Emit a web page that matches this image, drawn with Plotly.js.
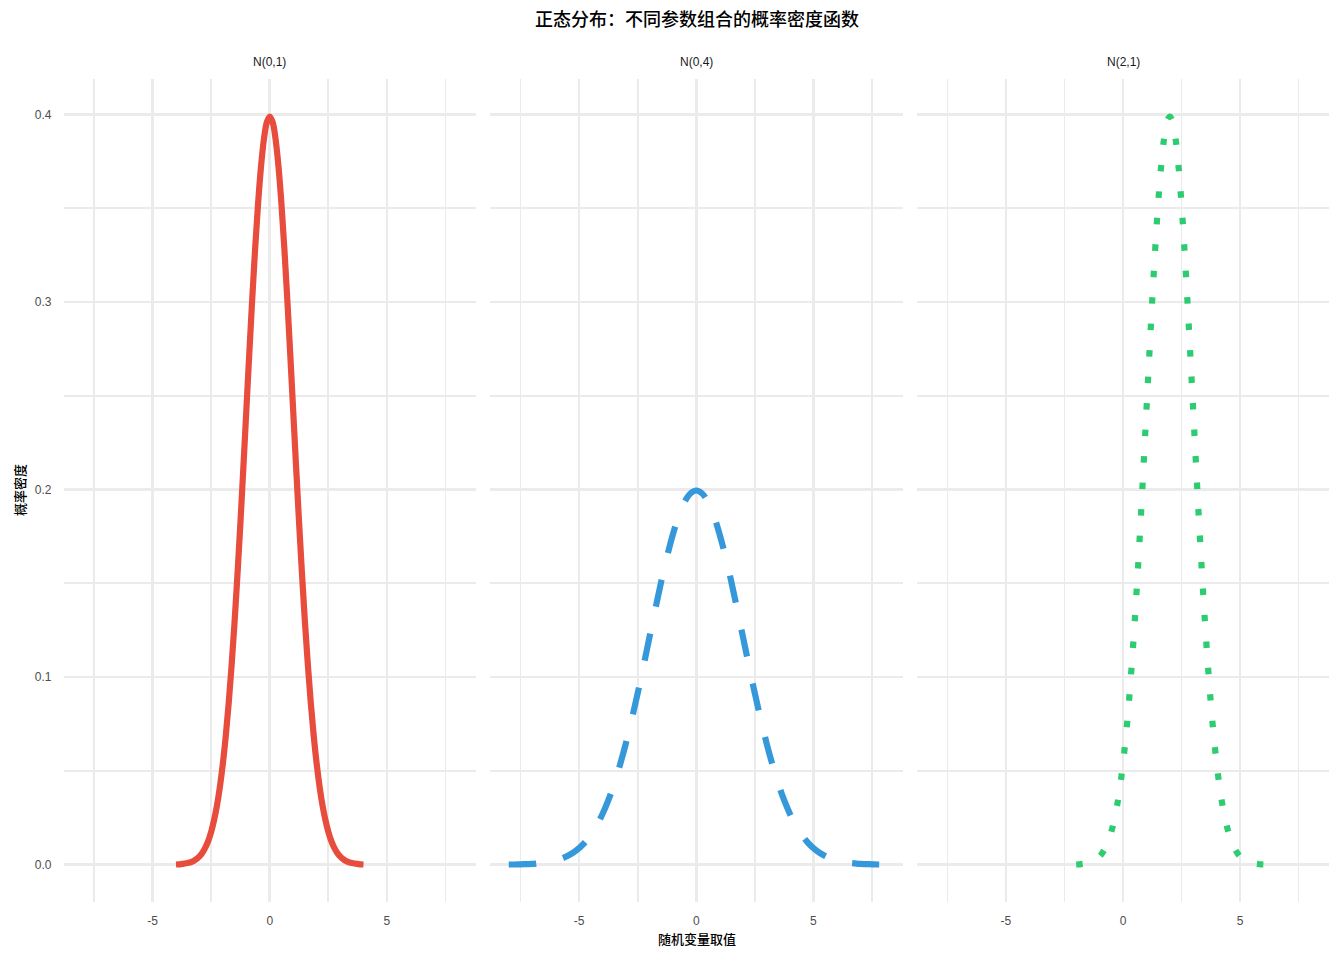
<!DOCTYPE html>
<html>
<head>
<meta charset="utf-8">
<script src="https://cdn.plot.ly/plotly-3.0.1.min.js"></script>
<style>
  html, body { margin: 0; padding: 0; background: #fff; }
  #chart { width: 1344px; height: 960px; }
</style>
</head>
<body>
<div id="chart"></div>
<script>
// facet names and x tick labels
const panels = ["N(0,1)", "N(0,4)", "N(2,1)"];
const xTickVals = [-5, 0, 5];
const xTickText = ["-5", "0", "5"];

// N(0,1)
const x01 = [-4, -3.875, -3.75, -3.625, -3.5, -3.375, -3.25, -3.125, -3, -2.875, -2.75, -2.625, -2.5, -2.375, -2.25, -2.125,
             -2, -1.875, -1.75, -1.625, -1.5, -1.375, -1.25, -1.125, -1, -0.875, -0.75, -0.625, -0.5, -0.375, -0.25, -0.125,
             0, 0.125, 0.25, 0.375, 0.5, 0.625, 0.75, 0.875, 1, 1.125, 1.25, 1.375, 1.5, 1.625, 1.75, 1.875,
             2, 2.125, 2.25, 2.375, 2.5, 2.625, 2.75, 2.875, 3, 3.125, 3.25, 3.375, 3.5, 3.625, 3.75, 3.875, 4];
const y01 = [0.0001, 0.0002, 0.0004, 0.0006, 0.0009, 0.0013, 0.0020, 0.0030, 0.0044, 0.0064, 0.0091, 0.0127, 0.0175, 0.0238, 0.0317, 0.0417,
             0.0540, 0.0688, 0.0863, 0.1067, 0.1295, 0.1551, 0.1826, 0.2119, 0.2420, 0.2720, 0.3011, 0.3282, 0.3521, 0.3719, 0.3867, 0.3958,
             0.3989, 0.3958, 0.3867, 0.3719, 0.3521, 0.3282, 0.3011, 0.2720, 0.2420, 0.2119, 0.1826, 0.1551, 0.1295, 0.1067, 0.0863, 0.0688,
             0.0540, 0.0417, 0.0317, 0.0238, 0.0175, 0.0127, 0.0091, 0.0064, 0.0044, 0.0030, 0.0020, 0.0013, 0.0009, 0.0006, 0.0004, 0.0002, 0.0001];

// N(0,4), middle panel
const x04 = [-8, -7.75, -7.5, -7.25, -7, -6.75, -6.5, -6.25, -6, -5.75, -5.5, -5.25, -5, -4.75, -4.5, -4.25,
             -4, -3.75, -3.5, -3.25, -3, -2.75, -2.5, -2.25, -2, -1.75, -1.5, -1.25, -1, -0.75, -0.5, -0.25,
             0, 0.25, 0.5, 0.75, 1, 1.25, 1.5, 1.75, 2, 2.25, 2.5, 2.75, 3, 3.25, 3.5, 3.75,
             4, 4.25, 4.5, 4.75, 5, 5.25, 5.5, 5.75, 6, 6.25, 6.5, 6.75, 7, 7.25, 7.5, 7.75, 8];
const y04 = [0.0001, 0.0001, 0.0002, 0.0003, 0.0004, 0.0007, 0.0010, 0.0015, 0.0022, 0.0032, 0.0046, 0.0064, 0.0088, 0.0119, 0.0159, 0.0209,
             0.0270, 0.0344, 0.0432, 0.0534, 0.0648, 0.0776, 0.0913, 0.1060, 0.1210, 0.1360, 0.1506, 0.1641, 0.1760, 0.1860, 0.1934, 0.1979,
             0.1995, 0.1979, 0.1934, 0.1860, 0.1760, 0.1641, 0.1506, 0.1360, 0.1210, 0.1060, 0.0913, 0.0776, 0.0648, 0.0534, 0.0432, 0.0344,
             0.0270, 0.0209, 0.0159, 0.0119, 0.0088, 0.0064, 0.0046, 0.0032, 0.0022, 0.0015, 0.0010, 0.0007, 0.0004, 0.0003, 0.0002, 0.0001, 0.0001];

// N(2,1), right panel
const x21 = [-2, -1.875, -1.75, -1.625, -1.5, -1.375, -1.25, -1.125, -1, -0.875, -0.75, -0.625, -0.5, -0.375, -0.25, -0.125,
             0, 0.125, 0.25, 0.375, 0.5, 0.625, 0.75, 0.875, 1, 1.125, 1.25, 1.375, 1.5, 1.625, 1.75, 1.875,
             2, 2.125, 2.25, 2.375, 2.5, 2.625, 2.75, 2.875, 3, 3.125, 3.25, 3.375, 3.5, 3.625, 3.75, 3.875,
             4, 4.125, 4.25, 4.375, 4.5, 4.625, 4.75, 4.875, 5, 5.125, 5.25, 5.375, 5.5, 5.625, 5.75, 5.875, 6];
const y21 = [0.0001, 0.0002, 0.0004, 0.0006, 0.0009, 0.0013, 0.0020, 0.0030, 0.0044, 0.0064, 0.0091, 0.0127, 0.0175, 0.0238, 0.0317, 0.0417,
             0.0540, 0.0688, 0.0863, 0.1067, 0.1295, 0.1551, 0.1826, 0.2119, 0.2420, 0.2720, 0.3011, 0.3282, 0.3521, 0.3719, 0.3867, 0.3958,
             0.3989, 0.3958, 0.3867, 0.3719, 0.3521, 0.3282, 0.3011, 0.2720, 0.2420, 0.2119, 0.1826, 0.1551, 0.1295, 0.1067, 0.0863, 0.0688,
             0.0540, 0.0417, 0.0317, 0.0238, 0.0175, 0.0127, 0.0091, 0.0064, 0.0044, 0.0030, 0.0020, 0.0013, 0.0009, 0.0006, 0.0004, 0.0002, 0.0001];

const colors = ["#E74C3C", "#3498DB", "#2ECC71"];
const dashes = ["solid", "27.5px,27.5px", "6.5px,20px"];

const W = 1344, H = 960;
const font = "Liberation Sans, Arial, Noto Sans CJK SC, sans-serif";
const cjk = "Noto Sans CJK SC, Liberation Sans, sans-serif";

const xs = [x01, x04, x21];
const ys = [y01, y04, y21];

const data = xs.map((x, i) => ({
    type: "scatter",
    mode: "lines",
    x: x,
    y: ys[i],
    xaxis: i === 0 ? "x" : "x" + (i + 1),
    yaxis: i === 0 ? "y" : "y" + (i + 1),
    line: {color: colors[i], width: 6.2, dash: dashes[i], shape: "spline", smoothing: 1, simplify: false},
    hoverinfo: "skip",
    showlegend: false
}));

// panel edges in pixels
const px = [[63.5, 476], [490, 902.5], [917, 1329]];
const yDom = [1 - 902 / H, 1 - 79 / H];

function xaxis(i) {
    return {
        domain: [px[i][0] / W, px[i][1] / W],
        range: [-8.8, 8.8],
        tickmode: "array", tickvals: xTickVals, ticktext: xTickText,
        showgrid: true, gridcolor: "#ebebeb", gridwidth: 2.7,
        minor: {tickmode: "linear", dtick: 2.5, tick0: 0, showgrid: true, gridcolor: "#ebebeb", gridwidth: 1.8},
        zeroline: false, showline: false, ticks: "",
        ticklabelstandoff: 10,
        tickfont: {family: font, size: 12, color: "#4d4d4d"},
        anchor: i === 0 ? "y" : "y" + (i + 1),
        fixedrange: true
    };
}

function yaxis(i) {
    return {
        domain: yDom,
        range: [-0.0199, 0.4189],
        tick0: 0, dtick: 0.1, tickformat: ".1f",
        showgrid: true, gridcolor: "#ebebeb", gridwidth: 2.7,
        minor: {dtick: 0.05, tick0: 0, showgrid: true, gridcolor: "#ebebeb", gridwidth: 1.8},
        zeroline: false, showline: false, ticks: "",
        ticklabelstandoff: 11,
        showticklabels: i === 0,
        tickfont: {family: font, size: 12, color: "#4d4d4d"},
        anchor: i === 0 ? "x" : "x" + (i + 1),
        fixedrange: true
    };
}

const annotations = panels.map((p, i) => ({
    text: p,
    xref: "paper", yref: "paper",
    x: (px[i][0] + px[i][1]) / 2 / W,
    y: 1 - 62 / H,
    xanchor: "center", yanchor: "middle",
    showarrow: false,
    font: {family: font, size: 12, color: "#1a1a1a"}
}));

annotations.push({
    text: "随机变量取值",
    xref: "paper", yref: "paper",
    x: 697 / W, y: 1 - 938 / H,
    xanchor: "center", yanchor: "middle",
    showarrow: false,
    font: {family: cjk, size: 13, color: "#000000", weight: 500}
});
annotations.push({
    text: "概率密度",
    xref: "paper", yref: "paper",
    x: 20 / W, y: 1 - 490 / H,
    xanchor: "center", yanchor: "middle",
    textangle: -90,
    showarrow: false,
    font: {family: cjk, size: 13, color: "#000000", weight: 500}
});

const layout = {
    width: W, height: H,
    margin: {l: 0, r: 0, t: 0, b: 0},
    paper_bgcolor: "#ffffff",
    plot_bgcolor: "#ffffff",
    title: {
        text: "正态分布：不同参数组合的概率密度函数",
        x: 697 / W, xref: "paper", xanchor: "center",
        y: 1 - 20 / H, yref: "container", yanchor: "middle",
        font: {family: cjk, size: 18, color: "#000000", weight: 500}
    },
    xaxis: xaxis(0), xaxis2: xaxis(1), xaxis3: xaxis(2),
    yaxis: yaxis(0), yaxis2: yaxis(1), yaxis3: yaxis(2),
    annotations: annotations,
    showlegend: false
};

Plotly.newPlot("chart", data, layout, {staticPlot: true});
</script>
</body>
</html>
